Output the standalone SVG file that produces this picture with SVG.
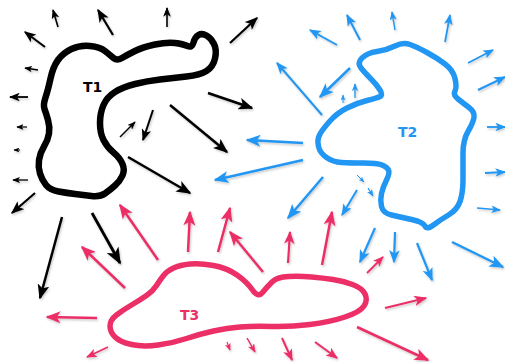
<svg xmlns="http://www.w3.org/2000/svg" width="505" height="362" viewBox="0 0 505 362">
  <style>
    .blob { fill: none; stroke-linejoin: round; stroke-linecap: round; }
    .k { stroke: #000000; }
    .b { stroke: #2196f3; }
    .p { stroke: #ec2f66; }
    .lbl { font-family: "DejaVu Sans", "Liberation Sans", sans-serif; font-weight: bold; font-size: 14px; }
    #arrows line { stroke-linecap: butt; }
    #arrows .k { marker-end: url(#headK); }
    #arrows .b { marker-end: url(#headB); }
    #arrows .p { marker-end: url(#headP); }
  </style>
  <defs>
    <marker id="headK" viewBox="0 0 10 8" refX="9" refY="4" markerWidth="6" markerHeight="4.8" orient="auto" markerUnits="strokeWidth">
      <path d="M0,0 L10,4 L0,8 L2.5,4 Z" fill="#000000"/>
    </marker>
    <marker id="headB" viewBox="0 0 10 8" refX="9" refY="4" markerWidth="6" markerHeight="4.8" orient="auto" markerUnits="strokeWidth">
      <path d="M0,0 L10,4 L0,8 L2.5,4 Z" fill="#2196f3"/>
    </marker>
    <marker id="headP" viewBox="0 0 10 8" refX="9" refY="4" markerWidth="6" markerHeight="4.8" orient="auto" markerUnits="strokeWidth">
      <path d="M0,0 L10,4 L0,8 L2.5,4 Z" fill="#ec2f66"/>
    </marker>
    <filter id="shade" x="-20%" y="-20%" width="140%" height="140%">
      <feDropShadow dx="1" dy="1.5" stdDeviation="1" flood-color="#000" flood-opacity="0.22"/>
    </filter>
  </defs>

  <rect width="505" height="362" fill="#ffffff"/>

  <!-- region T1 -->
  <g id="t1">
    <path class="blob k" stroke-width="6.5" d="M58,60 Q63,53 71.5,49 Q80,45 90,46 Q100,47 105,51 Q110,55 113.5,58 Q117,61 122,58 Q127,55 135,51 Q143,47 155,44.5 Q167,42 175,43 Q183,44 187.5,46 Q192,48 193.5,42.5 Q195,37 198.5,35 Q202,33 206.5,35.5 Q211,38 214,44 Q217,50 215,58.5 Q213,67 206.5,71 Q200,75 186.5,76.5 Q173,78 160,79.5 Q147,81 135,84 Q123,87 115,92 Q107,97 103.5,105 Q100,113 100,123 Q100,133 103.5,140 Q107,147 113.5,152.5 Q120,158 122.5,164 Q125,170 122.5,175.5 Q120,181 115,185.5 Q110,190 105,193.5 Q100,197 91.5,196 Q83,195 75,194 Q67,193 58.5,191.5 Q50,190 46,185 Q42,180 40,173.5 Q38,167 39,160 Q40,153 44,146.5 Q48,140 49,133.5 Q50,127 48,120 Q46,113 44.5,109 Q43,105 45.5,97.5 Q48,90 50.5,78.5 Q53,67 58,60 Z"/>
    <text class="lbl" x="83" y="92" font-size="15" fill="#000000">T1</text>
  </g>

  <!-- region T2 -->
  <g id="t2">
    <path class="blob b" stroke-width="5.5" d="M361,68 Q357,63 362,58 Q367,53 377,51.5 Q387,50 395,46 Q403,42 410,44.5 Q417,47 427,52.5 Q437,58 445,64 Q453,70 455,78.5 Q457,87 455,91 Q453,95 458,99 Q463,103 469,107.5 Q475,112 474,117.5 Q473,123 468,131.5 Q463,140 463,153.5 Q463,167 463,180 Q463,193 460,201.5 Q457,210 448.5,215 Q440,220 433.5,225 Q427,230 425,226 Q423,222 411.5,219.5 Q400,217 391.5,215 Q383,213 381.5,206.5 Q380,200 381.5,193.5 Q383,187 386.5,180 Q390,173 388.5,170 Q387,167 382,165 Q377,163 363.5,163 Q350,163 341.5,162.5 Q333,162 326.5,157.5 Q320,153 318.5,146.5 Q317,140 319.5,135 Q322,130 329.5,121.5 Q337,113 347,108 Q357,103 367,100.5 Q377,98 380,96.5 Q383,95 380,90 Q377,85 371,79 Q365,73 361,68 Z"/>
    <text class="lbl" x="398" y="137" fill="#2196f3">T2</text>
  </g>

  <!-- region T3 -->
  <g id="t3">
    <path class="blob p" stroke-width="5.5" d="M156.5,285.5 Q160,280 163.5,275.5 Q167,271 173.5,268 Q180,265 190,264 Q200,263 213.5,265.5 Q227,268 237,275 Q247,282 252.5,290 Q258,298 262.5,292.5 Q267,287 272,282 Q277,277 288.5,276.5 Q300,276 311.5,277 Q323,278 333,279.5 Q343,281 352.5,284.5 Q362,288 365,294 Q368,300 364,306 Q360,312 345,317 Q330,322 310,324.5 Q290,327 271.5,326.5 Q253,326 240,327 Q227,328 213.5,331 Q200,334 186.5,338.5 Q173,343 158,345 Q143,347 131.5,344.5 Q120,342 115,337 Q110,332 110,326 Q110,320 116.5,315 Q123,310 131.5,305 Q140,300 146.5,295.5 Q153,291 156.5,285.5 Z"/>
    <text class="lbl" x="180" y="320" fill="#ec2f66">T3</text>
  </g>

  <!-- radiating arrows -->
  <g id="arrows" filter="url(#shade)">
    <!-- black, around T1 -->
    <line class="k" x1="45" y1="47" x2="25" y2="32" stroke-width="2"/>
    <line class="k" x1="58" y1="27" x2="53" y2="10" stroke-width="1.6"/>
    <line class="k" x1="113" y1="35" x2="98" y2="10" stroke-width="2.2"/>
    <line class="k" x1="167" y1="27" x2="167" y2="8" stroke-width="1.6"/>
    <line class="k" x1="230" y1="43" x2="257" y2="18" stroke-width="2.2"/>
    <line class="k" x1="38" y1="70" x2="25" y2="68" stroke-width="1.3"/>
    <line class="k" x1="28" y1="97" x2="10" y2="97" stroke-width="1.8"/>
    <line class="k" x1="27" y1="127" x2="17" y2="127" stroke-width="1.2"/>
    <line class="k" x1="20" y1="150" x2="14" y2="150" stroke-width="1"/>
    <line class="k" x1="28" y1="180" x2="13" y2="180" stroke-width="1.3"/>
    <line class="k" x1="35" y1="193" x2="12" y2="213" stroke-width="2.2"/>
    <line class="k" x1="208" y1="93" x2="252" y2="108" stroke-width="2.5"/>
    <line class="k" x1="170" y1="105" x2="227" y2="152" stroke-width="2.5"/>
    <line class="k" x1="128" y1="157" x2="190" y2="193" stroke-width="2.5"/>
    <line class="k" x1="120" y1="137" x2="135" y2="122" stroke-width="1.4"/>
    <line class="k" x1="153" y1="110" x2="143" y2="140" stroke-width="2"/>
    <line class="k" x1="62" y1="217" x2="40" y2="298" stroke-width="2.5"/>
    <line class="k" x1="92" y1="213" x2="120" y2="263" stroke-width="2.8"/>

    <!-- blue, around T2 -->
    <line class="b" x1="337" y1="45" x2="310" y2="30" stroke-width="2"/>
    <line class="b" x1="360" y1="40" x2="347" y2="15" stroke-width="2"/>
    <line class="b" x1="395" y1="30" x2="392" y2="12" stroke-width="1.5"/>
    <line class="b" x1="445" y1="42" x2="450" y2="15" stroke-width="1.8"/>
    <line class="b" x1="468" y1="63" x2="493" y2="50" stroke-width="1.8"/>
    <line class="b" x1="478" y1="90" x2="505" y2="77" stroke-width="2"/>
    <line class="b" x1="487" y1="127" x2="505" y2="127" stroke-width="1.8"/>
    <line class="b" x1="485" y1="173" x2="505" y2="172" stroke-width="1.8"/>
    <line class="b" x1="477" y1="208" x2="500" y2="210" stroke-width="1.6"/>
    <line class="b" x1="452" y1="242" x2="503" y2="267" stroke-width="2.5"/>
    <line class="b" x1="350" y1="68" x2="320" y2="97" stroke-width="2.5"/>
    <line class="b" x1="343" y1="103" x2="343" y2="95" stroke-width="1"/>
    <line class="b" x1="355" y1="98" x2="355" y2="84" stroke-width="1.3"/>
    <line class="b" x1="322" y1="115" x2="277" y2="63" stroke-width="2"/>
    <line class="b" x1="303" y1="143" x2="247" y2="140" stroke-width="2.5"/>
    <line class="b" x1="303" y1="160" x2="215" y2="180" stroke-width="2.5"/>
    <line class="b" x1="323" y1="177" x2="288" y2="218" stroke-width="2.5"/>
    <line class="b" x1="357" y1="190" x2="342" y2="215" stroke-width="2"/>
    <line class="b" x1="357" y1="175" x2="364" y2="182" stroke-width="1"/>
    <line class="b" x1="368" y1="188" x2="373" y2="196" stroke-width="1.2"/>
    <line class="b" x1="375" y1="228" x2="360" y2="262" stroke-width="2.2"/>
    <line class="b" x1="395" y1="232" x2="394" y2="262" stroke-width="2.2"/>
    <line class="b" x1="417" y1="243" x2="432" y2="280" stroke-width="2.2"/>

    <!-- pink, around T3 -->
    <line class="p" x1="158" y1="260" x2="120" y2="205" stroke-width="2.5"/>
    <line class="p" x1="188" y1="252" x2="190" y2="212" stroke-width="2.5"/>
    <line class="p" x1="218" y1="252" x2="230" y2="208" stroke-width="2.5"/>
    <line class="p" x1="263" y1="272" x2="230" y2="232" stroke-width="2.5"/>
    <line class="p" x1="288" y1="263" x2="290" y2="232" stroke-width="2.2"/>
    <line class="p" x1="322" y1="265" x2="332" y2="212" stroke-width="2.5"/>
    <line class="p" x1="125" y1="288" x2="82" y2="247" stroke-width="2.5"/>
    <line class="p" x1="97" y1="318" x2="47" y2="317" stroke-width="2.5"/>
    <line class="p" x1="108" y1="347" x2="87" y2="357" stroke-width="1.8"/>
    <line class="p" x1="227" y1="342" x2="230" y2="350" stroke-width="1.2"/>
    <line class="p" x1="247" y1="338" x2="255" y2="352" stroke-width="1.5"/>
    <line class="p" x1="282" y1="338" x2="292" y2="360" stroke-width="2"/>
    <line class="p" x1="315" y1="342" x2="337" y2="358" stroke-width="2"/>
    <line class="p" x1="357" y1="327" x2="428" y2="360" stroke-width="2.5"/>
    <line class="p" x1="385" y1="308" x2="426" y2="298" stroke-width="2.2"/>
    <line class="p" x1="367" y1="273" x2="383" y2="257" stroke-width="1.8"/>
  </g>
</svg>
